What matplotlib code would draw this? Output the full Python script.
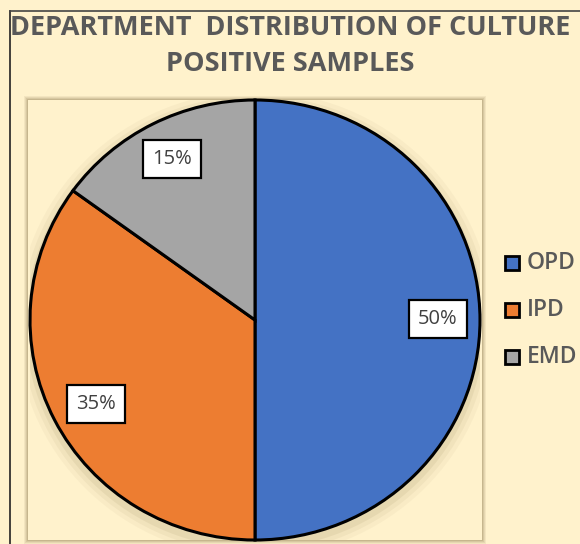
import numpy             as np
import matplotlib.pyplot as plt
from matplotlib.patches import Rectangle, Ellipse


# department shares of culture positive samples
departments = [ 'OPD', 'IPD', 'EMD' ]
shares      = [ 50, 35, 15 ]
colors      = [ '#4472C4', '#ED7D31', '#A5A5A5' ]

bg_color   = '#FFF2CC'
text_color = '#595959'

W, H = 580, 544
fig = plt.figure( figsize=(W/100, H/100), dpi=100 )
fig.patch.set_facecolor( bg_color )

# outer frame lines (left and top)
fig.add_artist( plt.Line2D( [10/W, 10/W], [0, 1 - 11/H], color='#222222', lw=1.2 ) )
fig.add_artist( plt.Line2D( [10/W, 1], [1 - 11/H, 1 - 11/H], color='#444444', lw=1.2 ) )

# title
fig.text( 290/W, 1 - 28/H, 'DEPARTMENT  DISTRIBUTION OF CULTURE', ha='center', va='center',
          fontsize=19.5, fontweight='bold', color=text_color, family='Open Sans' )
fig.text( 290/W, 1 - 64/H, 'POSITIVE SAMPLES', ha='center', va='center',
          fontsize=19.5, fontweight='bold', color=text_color, family='Open Sans' )

# plot area with soft shadow
px0, py0, px1, py1 = 28, 100, 482, 540
for k, a in enumerate( [0.10, 0.12, 0.16, 0.22] ):
    off = 4 - k
    fig.add_artist( Rectangle( ((px0 - off)/W, 1 - (py1 + off)/H), (px1 - px0 + 2*off)/W, (py1 - py0 + 2*off)/H,
                               transform=fig.transFigure, facecolor='#8C7A4E', alpha=a,
                               edgecolor='none', zorder=-3 ) )
fig.add_artist( Rectangle( (px0/W, 1 - py1/H), (px1 - px0)/W, (py1 - py0)/H,
                           transform=fig.transFigure, facecolor=bg_color, edgecolor='none', zorder=-2 ) )

# pie fills 30..480 horizontally and 100..540 vertically
ax = fig.add_axes( [30/W, 1 - 540/H, 450/W, 440/H] )
ax.set_facecolor( 'none' )

# soft shadow under the pie
for k, a in enumerate( [0.05, 0.07, 0.10] ):
    d = 0.04*(3 - k)
    ax.add_patch( Ellipse( (0.0, -0.02), 2 + d, 2 + d, color='#8C7A4E', alpha=a, lw=0 ) )

wedges, _ = ax.pie( shares, colors=colors, startangle=90, counterclock=False,
                    wedgeprops=dict( edgecolor='black', linewidth=2.2 ), radius=1.0 )

# percentage labels in boxes
label_pos = [ (0.813, 0.005), (-0.707, -0.382), (-0.369, 0.732) ]
for s, (lx, ly) in zip( shares, label_pos ):
    ax.text( lx, ly, f'{s}%', ha='center', va='center', fontsize=14.5, color='#404040',
             family='Open Sans',
             bbox=dict( boxstyle='square,pad=0.45', facecolor='white', edgecolor='black', linewidth=1.6 ) )

ax.set_xlim( -1.0, 1.0 )
ax.set_ylim( -1.0, 1.0 )
ax.set_aspect( 'auto' )
ax.axis( 'off' )

# legend on the right
leg_y = [ 263, 310, 357 ]
for name, c, y in zip( departments, colors, leg_y ):
    fig.add_artist( Rectangle( (505/W, 1 - (y + 7)/H), 14/W, 14/H, transform=fig.transFigure,
                               facecolor=c, edgecolor='black', linewidth=2 ) )
    fig.text( 527/W, 1 - y/H, name, ha='left', va='center', fontsize=16.5, fontweight='semibold',
              color=text_color, family='Open Sans' )

fig.savefig( 'out.png', dpi=100, facecolor=bg_color )
